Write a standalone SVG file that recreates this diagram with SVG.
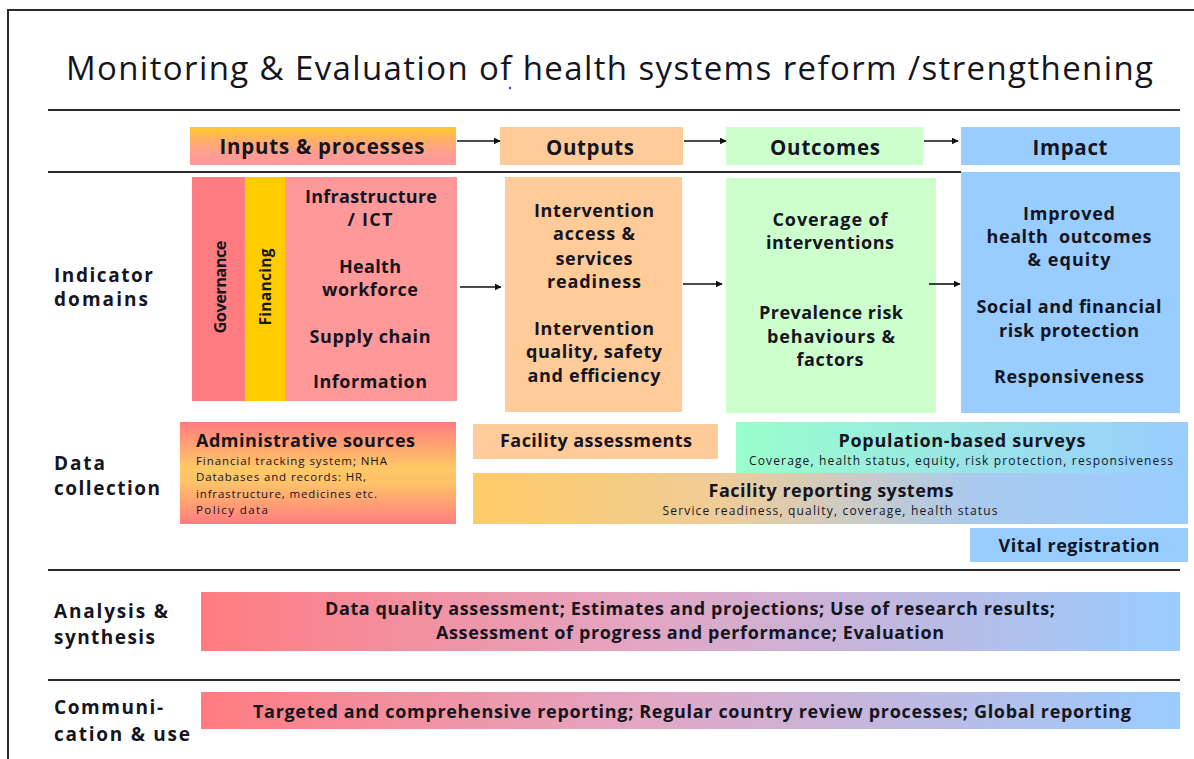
<svg xmlns="http://www.w3.org/2000/svg" width="1194" height="759" viewBox="0 0 1194 759">
  <style>
    .t { font-family: "Open Sans", "Liberation Sans", sans-serif; fill: #15151f; }
    .b { font-weight: 700; }
    .c { text-anchor: middle; }
    .h { font-size: 20.5px; }
    .m { font-size: 18px; }
    .lbl { font-size: 19px; }
    .dt { font-size: 18px; }
    .sm { font-size: 11.5px; font-weight: 400; }
    .sub { font-size: 12px; font-weight: 400; }
    .rule { stroke: #2a2a2a; stroke-width: 2; fill: none; }
    .arrow { stroke: #111; stroke-width: 1.6; fill: none; marker-end: url(#head); }
  </style>
  <defs>
    <marker id="head" viewBox="0 0 10 10" refX="9" refY="5" markerWidth="7" markerHeight="7" markerUnits="userSpaceOnUse" orient="auto">
      <path d="M0,0 L10,5 L0,10 z" fill="#111"/>
    </marker>
    <linearGradient id="gInputs" x1="0" y1="0" x2="0" y2="1">
      <stop offset="0" stop-color="#FFC82A"/>
      <stop offset="0.35" stop-color="#FFAF6A"/>
      <stop offset="0.75" stop-color="#FF9C96"/>
      <stop offset="1" stop-color="#FF9999"/>
    </linearGradient>
    <linearGradient id="gAdmin" x1="0" y1="0" x2="0" y2="1">
      <stop offset="0" stop-color="#FF7C80"/>
      <stop offset="0.45" stop-color="#FFC866"/>
      <stop offset="0.6" stop-color="#FFC268"/>
      <stop offset="1" stop-color="#FF7C80"/>
    </linearGradient>
    <linearGradient id="gSurvey" x1="0" y1="0" x2="1" y2="0">
      <stop offset="0" stop-color="#99FFCC"/>
      <stop offset="1" stop-color="#99CCFF"/>
    </linearGradient>
    <linearGradient id="gFacility" x1="0" y1="0" x2="1" y2="0">
      <stop offset="0" stop-color="#FFCC66"/>
      <stop offset="0.35" stop-color="#EFCC99"/>
      <stop offset="0.7" stop-color="#AACAEE"/>
      <stop offset="1" stop-color="#99CCFF"/>
    </linearGradient>
    <linearGradient id="gBand" x1="0" y1="0" x2="1" y2="0">
      <stop offset="0" stop-color="#FF7C80"/>
      <stop offset="0.45" stop-color="#E3A6C3"/>
      <stop offset="1" stop-color="#99CCFF"/>
    </linearGradient>
  </defs>

  <rect width="1194" height="759" fill="#ffffff"/>

  <!-- page frame -->
  <path class="rule" d="M8,759 V10 H1194"/>

  <!-- title -->
  <text class="t" x="66" y="80" font-size="33" textLength="1087">Monitoring &amp; Evaluation of health systems reform /strengthening</text>
  <circle cx="510" cy="88" r="1.2" fill="#3344cc"/>

  <!-- section rules -->
  <g id="rules">
    <line class="rule" x1="48" y1="110" x2="1180" y2="110"/>
    <line class="rule" x1="48" y1="172" x2="961" y2="172"/>
    <line class="rule" x1="48" y1="570" x2="1180" y2="570"/>
    <line class="rule" x1="48" y1="680" x2="1180" y2="680"/>
  </g>

  <!-- row labels -->
  <g id="row-labels" class="t b lbl">
    <text x="54" y="282" textLength="99">Indicator</text>
    <text x="54" y="306" textLength="94">domains</text>
    <text x="54" y="470" textLength="51">Data</text>
    <text x="54" y="495" textLength="106">collection</text>
    <text x="54" y="618" textLength="114">Analysis &amp;</text>
    <text x="54" y="644" textLength="101">synthesis</text>
    <text x="54" y="714" textLength="109">Communi-</text>
    <text x="54" y="741" textLength="136">cation &amp; use</text>
  </g>

  <!-- column headers -->
  <g id="hdr-inputs">
    <rect x="190" y="127" width="266" height="38" fill="url(#gInputs)"/>
    <text class="t b h c" x="322" y="154" textLength="205">Inputs &amp; processes</text>
  </g>
  <g id="hdr-outputs">
    <rect x="500" y="127" width="183" height="38" fill="#FFCC99"/>
    <text class="t b h c" x="590" y="155" textLength="88">Outputs</text>
  </g>
  <g id="hdr-outcomes">
    <rect x="726" y="127" width="197" height="38" fill="#CCFFCC"/>
    <text class="t b h c" x="825" y="155" textLength="110">Outcomes</text>
  </g>
  <g id="hdr-impact">
    <rect x="961" y="127" width="219" height="38" fill="#99CCFF"/>
    <text class="t b h c" x="1070" y="155" textLength="75">Impact</text>
  </g>

  <!-- indicator domains: inputs & processes -->
  <g id="governance">
    <rect x="192" y="177" width="53" height="224" fill="#FF7C80"/>
    <text class="t b c" font-size="16.5" transform="translate(226,287) rotate(-90)" textLength="93">Governance</text>
  </g>
  <g id="financing">
    <rect x="245" y="177" width="40" height="224" fill="#FFCC00"/>
    <text class="t b c" font-size="15.5" transform="translate(271,287) rotate(-90)" textLength="77">Financing</text>
  </g>
  <g id="inputs-body">
    <rect x="285" y="177" width="172" height="224" fill="#FF9999"/>
    <g class="t b m c">
      <text x="371" y="203" textLength="132">Infrastructure</text>
      <text x="370" y="226" textLength="45">/ ICT</text>
      <text x="370" y="273" textLength="62">Health</text>
      <text x="370" y="296" textLength="96">workforce</text>
      <text x="370" y="343" textLength="121">Supply chain</text>
      <text x="370" y="388" textLength="114">Information</text>
    </g>
  </g>

  <g id="outputs-body">
    <rect x="505" y="177" width="177" height="235" fill="#FFCC99"/>
    <g class="t b m c">
      <text x="594" y="217" textLength="120">Intervention</text>
      <text x="594" y="240" textLength="82">access &amp;</text>
      <text x="594" y="265" textLength="77">services</text>
      <text x="594" y="288" textLength="94">readiness</text>
      <text x="594" y="335" textLength="120">Intervention</text>
      <text x="594" y="358" textLength="136">quality, safety</text>
      <text x="594" y="382" textLength="133">and efficiency</text>
    </g>
  </g>

  <g id="outcomes-body">
    <rect x="726" y="178" width="210" height="235" fill="#CCFFCC"/>
    <g class="t b m c">
      <text x="830" y="226" textLength="115">Coverage of</text>
      <text x="830" y="249" textLength="128">interventions</text>
      <text x="831" y="319" textLength="144">Prevalence risk</text>
      <text x="831" y="343" textLength="128">behaviours &amp;</text>
      <text x="830" y="366" textLength="67">factors</text>
    </g>
  </g>

  <g id="impact-body">
    <rect x="961" y="172" width="219" height="241" fill="#99CCFF"/>
    <g class="t b m c">
      <text x="1069" y="220" textLength="92">Improved</text>
      <text x="1069" y="243" textLength="165" xml:space="preserve">health  outcomes</text>
      <text x="1069" y="266" textLength="83">&amp; equity</text>
      <text x="1069" y="313" textLength="185">Social and financial</text>
      <text x="1069" y="337" textLength="140">risk protection</text>
      <text x="1069" y="383" textLength="150">Responsiveness</text>
    </g>
  </g>

  <!-- data collection -->
  <g id="admin-sources">
    <rect x="180" y="422" width="276" height="102" fill="url(#gAdmin)"/>
    <text class="t b dt" x="196" y="447" textLength="219">Administrative sources</text>
    <g class="t sm">
      <text x="196" y="465" textLength="191">Financial tracking system; NHA</text>
      <text x="196" y="481" textLength="170">Databases and records: HR,</text>
      <text x="196" y="498" textLength="181">infrastructure, medicines etc.</text>
      <text x="196" y="514" textLength="72">Policy data</text>
    </g>
  </g>
  <g id="facility-assessments">
    <rect x="473" y="424" width="245" height="35" fill="#FFCC99"/>
    <text class="t b dt c" x="596" y="447" textLength="192">Facility assessments</text>
  </g>
  <g id="population-surveys">
    <rect x="736" y="422" width="452" height="52" fill="url(#gSurvey)"/>
    <text class="t b dt c" x="962" y="447" textLength="247">Population-based surveys</text>
    <text class="t sub c" x="961" y="465" textLength="424">Coverage, health status, equity, risk protection, responsiveness</text>
  </g>
  <g id="facility-reporting">
    <rect x="473" y="473" width="715" height="51" fill="url(#gFacility)"/>
    <text class="t b dt c" x="831" y="497" textLength="245">Facility reporting systems</text>
    <text class="t sub c" x="830" y="515" textLength="335">Service readiness, quality, coverage, health status</text>
  </g>
  <g id="vital-registration">
    <rect x="970" y="528" width="218" height="34" fill="#99CCFF"/>
    <text class="t b dt c" x="1079" y="552" textLength="161">Vital registration</text>
  </g>

  <!-- analysis & synthesis -->
  <g id="analysis">
    <rect x="201" y="592" width="979" height="59" fill="url(#gBand)"/>
    <text class="t b c" x="690" y="615" font-size="18" textLength="730">Data quality assessment; Estimates and projections; Use of research results;</text>
    <text class="t b c" x="690" y="639" font-size="18" textLength="508">Assessment of progress and performance; Evaluation</text>
  </g>

  <!-- communication & use -->
  <g id="communication">
    <rect x="201" y="692" width="979" height="37" fill="url(#gBand)"/>
    <text class="t b c" x="692" y="718" font-size="18" textLength="878">Targeted and comprehensive reporting; Regular country review processes; Global reporting</text>
  </g>

  <!-- connectors -->
  <g id="connectors">
    <line class="arrow" x1="457" y1="141" x2="500" y2="141"/>
    <line class="arrow" x1="684" y1="141" x2="726" y2="141"/>
    <line class="arrow" x1="924" y1="141" x2="958" y2="141"/>
    <line class="arrow" x1="460" y1="287" x2="501" y2="287"/>
    <line class="arrow" x1="683" y1="284" x2="722" y2="284"/>
    <line class="arrow" x1="929" y1="284" x2="960" y2="284"/>
  </g>
</svg>
